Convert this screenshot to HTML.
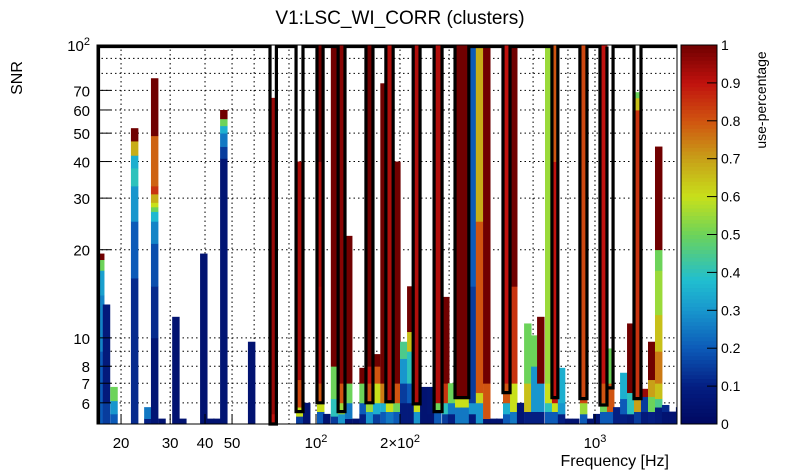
<!DOCTYPE html>
<html><head><meta charset="utf-8"><style>
html,body{margin:0;padding:0;background:#fff;}
svg{display:block;font-family:"Liberation Sans",Arial,sans-serif;}
</style></head><body>
<svg id="chart" width="805" height="472" viewBox="0 0 805 472" xmlns="http://www.w3.org/2000/svg">
<text x="400" y="24" font-size="19" text-anchor="middle">V1:LSC_WI_CORR (clusters)</text>
<text transform="translate(22,78) rotate(-90)" font-size="16" text-anchor="middle">SNR</text>
<text x="669" y="466" font-size="16" text-anchor="end">Frequency [Hz]</text>
<text transform="translate(766,100) rotate(-90)" font-size="14" text-anchor="middle">use-percentage</text>
<g id="grid"></g><g id="bars"></g><g id="contour"></g><g id="axes"></g><g id="cbar"></g>
</svg>
<script>
// ---- data ----
const binFreqs=[16.4,17.2,18.3,21.7,24.2,25.6,27.2,30.5,32.3,38.4,40.7,42.8,45.3,57.0,68.4,84.8,89.8,100.8,106,113,120,127,135,143,151,160,170,178,189,200,212,224,236,250,265,283,297,315,333,353,374,397,421,442,468,496,525,557,590,620,662,701,736,780,827,883,936,984,1042,1104,1161,1230,1303,1380,1462,1549,1641,1738,1841,1950];
const binSegments=[
[[9,0.2],[14,0.27],[17,0.32],[18.5,0.5],[19.4,1]],
[[6,0.15],[13,0.08]],
[[5.5,0.2],[6.1,0.3],[6.8,0.5]],
[[16,0.12],[25,0.2],[33,0.3],[38,0.4],[42,0.35],[47,0.68],[52,1]],
[[5.3,0.1],[5.8,0.25]],
[[10,0.06],[15,0.12],[21,0.18],[25,0.27],[27,0.37],[28,0.5],[29,0.6],[31,0.68],[33,0.85],[49,0.78],[77,1]],
[[5.3,0.05]],
[[11.8,0.05]],
[[5.3,0.05]],
[[19.4,0.05]],
[[5.3,0.05]],
[[5.3,0.05]],
[[41,0.06],[45,0.15],[50,0.25],[53,0.35],[56,0.5],[60,1]],
[[9.7,0.05]],
[[5.5,0.9],[66,0.95]],
[[5.4,0.15],[5.8,0.6],[7.2,0.82],[40,0.93]],
[[6,0.05]],
[[5.6,0.2],[6,0.6],[7,0.8],[15,0.9],[40,0.92],[100,1]],
[[5.5,0.05]],
[[5.4,0.15],[6.2,0.4],[8,0.5],[100,1]],
[[5.5,0.3],[6,0.55],[7,0.8],[100,0.97]],
[[5.3,0.05],[6,0.25],[7,0.5],[22.3,1]],
[[5.3,0.05]],
[[5.5,0.1],[6,0.2],[7,0.5],[7.9,1]],
[[5.6,0.3],[6,0.55],[7,0.8],[8,0.9],[100,1]],
[[5.5,0.15],[6,0.35],[7,0.6],[8,0.8],[8.8,1]],
[[5.6,0.2],[6,0.35],[7,0.75],[74,1]],
[[5.6,0.25],[6,0.6],[100,0.92]],
[[5.6,0.2],[6,0.5],[7,0.8],[40,1]],
[[6,0.08],[7,0.15],[8.5,0.3],[9.7,0.45]],
[[6,0.08],[7,0.2],[9,0.4],[10.5,0.65],[15,1]],
[[5.6,0.3],[6,0.6],[100,0.92]],
[[6.8,0.05]],
[[5.5,0.05],[6.8,0.06]],
[[5.6,0.2],[6,0.5],[100,0.92]],
[[5.5,0.15],[6,0.4],[7,0.85],[13.8,1]],
[[5.5,0.1],[6,0.25],[7,0.5]],
[[5.8,0.25],[6.2,0.6],[100,1]],
[[5.8,0.25],[6.2,0.6],[100,1]],
[[5.5,0.08],[6,0.3],[15,0.15],[100,0.2]],
[[6,0.3],[6.5,0.62],[25,0.8],[100,0.68]],
[[5.3,0.05],[7,0.8],[100,1]],
[[5.3,0.05]],
[[5.3,0.05]],
[[5.5,0.2],[6,0.35],[7,0.8],[100,0.9]],
[[5.6,0.25],[7,0.6],[15,0.85],[100,1]],
[[6,0.06]],
[[5.6,0.1],[7,0.65],[11.2,0.5]],
[[5.6,0.1],[8,0.3],[10.2,0.5]],
[[5.6,0.1],[7,0.3],[11.8,1]],
[[5.6,0.2],[6,0.4],[7,0.6],[100,0.55]],
[[5.6,0.2],[6,0.6],[40,0.9],[100,0.8]],
[[5.5,0.1],[6,0.3],[7.9,0.35]],
[[5.3,0.05]],
[[5.3,0.05]],
[[5.5,0.2],[6,0.55],[100,0.82]],
[[5.3,0.05]],
[[5.5,0.06]],
[[5.6,0.2],[6,0.5],[7,0.8],[100,0.9]],
[[5.6,0.2],[7,0.8],[9.2,0.5]],
[[5.8,0.1]],
[[5.5,0.1],[6.2,0.2],[7.6,0.35]],
[[5.5,0.08],[6.5,0.4],[11.2,1]],
[[5.6,0.15],[6.2,0.7],[60,0.85],[66,0.65],[69,0.5]],
[[5.6,0.08],[6.3,0.15],[6.7,0.95]],
[[5.6,0.1],[6.3,0.5],[7.2,0.7],[9.7,1]],
[[5.8,0.08],[6.2,0.45],[7,0.65],[9,0.75],[12,0.65],[17,0.55],[20,0.5],[45,1]],
[[5.6,0.05],[5.9,0.12]],
[[5.6,0.05]],
[[5.8,0.1]]
];
const notchLo=[68.4,84.8,100.8,120,151,178,223,265,315,468,701,883,1042,1104,1380];
const notchHi=[72.1,89.8,106,127,160,189,236,283,353,496,736,936,1104,1161,1462];
const notchSnr=[5.08,5.6,6.0,5.6,6.0,6.05,5.95,5.6,6.25,6.5,6.25,6.2,5.9,6.75,6.2];
const xTickVals=[20,30,40,50,100,200,1000];
const xTickLabels=["20","30","40","50","10^2","2×10^2","10^3"];
const xGridVals=[20,30,40,50,60,80,100,200,300,400,600,800,1000];
const yTickVals=[100,70,60,50,40,30,20,10,8,7,6];
const yTickLabels=["10^2","70","60","50","40","30","20","10","8","7","6"];
const yGridVals=[90,80,70,60,50,40,30,20,10,9,8,7,6];
const cbarTicks=[0,0.1,0.2,0.3,0.4,0.5,0.6,0.7,0.8,0.9,1];
// ---- scales ----
const X0=97,X1=677,Y0=45,Y1=424;
const FMIN=16.4,FMAX=1968,SMIN=5.08,SMAX=100;
const binRatio=1.06;
function xs(f){return X0+(Math.log10(f)-Math.log10(FMIN))/(Math.log10(FMAX)-Math.log10(FMIN))*(X1-X0);}
function ys(s){return Y1-(Math.log10(s)-Math.log10(SMIN))/(Math.log10(SMAX)-Math.log10(SMIN))*(Y1-Y0);}
const stops=[[0,[0,8,96]],[0.1,[4,30,130]],[0.2,[12,90,184]],[0.3,[24,150,205]],[0.38,[32,190,208]],[0.5,[108,211,90]],[0.6,[200,224,26]],[0.7,[200,160,24]],[0.8,[208,84,16]],[0.9,[192,18,14]],[1,[112,0,0]]];
function pal(v){for(let i=1;i<stops.length;i++){if(v<=stops[i][0]){const a=stops[i-1],b=stops[i],t=(v-a[0])/(b[0]-a[0]);const c=a[1].map((q,k)=>Math.round(q+(b[1][k]-q)*t));return `rgb(${c})`;}}return 'rgb(112,0,0)';}
const NS='http://www.w3.org/2000/svg';
function mk(tag,attrs,parent){const e=document.createElementNS(NS,tag);for(const k in attrs)e.setAttribute(k,attrs[k]);parent.appendChild(e);return e;}
const G=id=>document.getElementById(id);
// grid
for(const f of xGridVals){const l=mk('line',{x1:xs(f),x2:xs(f),y1:Y0,y2:Y1,stroke:'#000','stroke-width':1,'stroke-dasharray':'1.5,3'},G('grid'));

}
for(const s of yGridVals){const l=mk('line',{x1:X0,x2:X1,y1:ys(s),y2:ys(s),stroke:'#000','stroke-width':1,'stroke-dasharray':'1.5,3'},G('grid'));

}
// bars
binFreqs.forEach((f,i)=>{let prev=SMIN;const xa=xs(f),xb=Math.min(X1,xs(f*binRatio));
for(const [top,v] of binSegments[i]){const t=Math.min(top,SMAX);if(t<=prev)continue;
const r=mk('rect',{x:xa,y:ys(t),width:Math.max(0,xb-xa)+0.4,height:ys(prev)-ys(t)+0.4,fill:pal(v)},G('bars'));


prev=t;}});
// contour
let d=`M${xs(FMIN)+1.5},${Y1} L${xs(FMIN)+1.5},${Y0+1.5}`;
notchLo.forEach((lo,i)=>{const yb=Math.min(ys(notchSnr[i]),Y1);d+=` L${xs(lo)},${Y0+1.5} L${xs(lo)},${yb} L${xs(notchHi[i])},${yb} L${xs(notchHi[i])},${Y0+1.5}`;});
d+=` L${X1},${Y0+1.5}`;
const cp=mk('path',{d:d,fill:'none',stroke:'#000','stroke-width':3.2,'stroke-linejoin':'miter'},G('contour'));


// frame & axes
const fr=mk('rect',{x:X0,y:Y0,width:X1-X0,height:Y1-Y0,fill:'none',stroke:'#000','stroke-width':1},G('axes'));


function lbl(txt,x,y,anchor,parent,name){const t=mk('text',{x:x,y:y,'font-size':15,'text-anchor':anchor},parent);
const m=txt.match(/^(.*)10\^(\d)$/);if(m){t.appendChild(document.createTextNode(m[1]+'10'));const s=mk('tspan',{dy:-6,'font-size':11},t);s.textContent=m[2];}else t.textContent=txt;

}
xTickVals.forEach((f,i)=>{mk('line',{x1:xs(f),x2:xs(f),y1:Y1,y2:Y1-10,stroke:'#000'},G('axes'));lbl(xTickLabels[i],xs(f),448,'middle',G('axes'),'x-tick-label');});
yTickVals.forEach((s,i)=>{mk('line',{x1:X0,x2:X0+14,y1:ys(s),y2:ys(s),stroke:'#000'},G('axes'));lbl(yTickLabels[i],X0-7,ys(s)+6,'end',G('axes'),'y-tick-label');});
// colorbar
const CX0=681,CX1=717;
for(let k=0;k<100;k++){const v=(k+0.5)/100;const r=mk('rect',{x:CX0,y:Y1-(k+1)*(Y1-Y0)/100,width:CX1-CX0,height:(Y1-Y0)/100+0.5,fill:pal(v)},G('cbar'));

}
mk('rect',{x:CX0,y:Y0,width:CX1-CX0,height:Y1-Y0,fill:'none',stroke:'#000','stroke-width':1},G('cbar'));
cbarTicks.forEach(v=>{const y=Y1-v*(Y1-Y0);mk('line',{x1:CX1-10,x2:CX1,y1:y,y2:y,stroke:'#000'},G('cbar'));
const t=mk('text',{x:CX1+4,y:y+5,'font-size':14},G('cbar'));t.textContent=String(v);

});
</script>
</body></html>
